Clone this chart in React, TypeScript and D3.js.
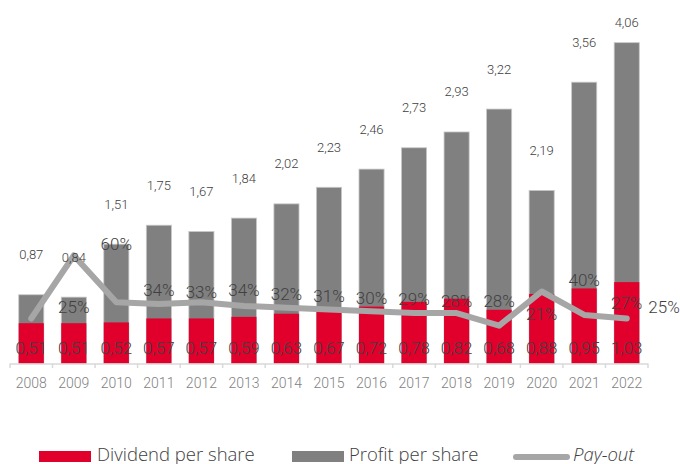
import React from 'react';
import * as d3 from 'd3';

const years = ['2008','2009','2010','2011','2012','2013','2014','2015','2016','2017','2018','2019','2020','2021','2022'];
const dividend = [0.51,0.51,0.52,0.57,0.57,0.59,0.63,0.67,0.72,0.78,0.82,0.68,0.88,0.95,1.03];
const profit = [0.87,0.84,1.51,1.75,1.67,1.84,2.02,2.23,2.46,2.73,2.93,3.22,2.19,3.56,4.06];
const payout = [25,60,34,33,34,32,31,30,29,28,28,21,40,27,25];
const legendLabels = ['Dividend per share', 'Profit per share', 'Pay-out'];

const W = 680, H = 464;
const RED = '#E0002B', GRAY = '#808080', LINE = '#A6A6A6', TXT = '#404040';
const FONT = 'Roboto, "Open Sans", sans-serif';
const LFONT = '"Open Sans", Roboto, sans-serif';
const fmt = (v: number) => v.toFixed(2).replace('.', ',');

export default function App() {
  const x = d3.scaleBand<string>().domain(years).range([10, 648]).paddingInner(0.41).paddingOuter(0.205);
  const y = d3.scaleLinear().domain([0, 4.6]).range([363.5, 0]);
  const yp = d3.scaleLinear().domain([0, 200]).range([363.5, 3.5]);
  const step = x.step();
  const cx = (i: number) => (x(years[i]) as number) + x.bandwidth() / 2;
  const line = d3.line<number>().x((_, i) => cx(i)).y(d => yp(d));
  const baseY = y(0);
  const r0 = x.range()[0];

  return (
    <svg width={W} height={H} style={{ position: 'absolute', left: 0, top: 0, background: '#fff' }} fontFamily={FONT}>
      {profit.map((v, i) => (
        <rect key={'p' + i} x={x(years[i])} y={y(v)} width={x.bandwidth()} height={baseY - y(v)} fill={GRAY} stroke="#C8C8C8" strokeWidth={0.8} />
      ))}
      {dividend.map((v, i) => (
        <rect key={'d' + i} x={x(years[i])} y={y(v)} width={x.bandwidth()} height={baseY - y(v)} fill={RED} />
      ))}
      <line x1={r0} x2={x.range()[1]} y1={baseY + 0.5} y2={baseY + 0.5} stroke="#D9D9D9" strokeWidth={1.5} />
      {d3.range(years.length + 1).map(i => (
        <line key={'t' + i} x1={r0 + i * step} x2={r0 + i * step} y1={baseY} y2={baseY + 4.5} stroke="#D9D9D9" strokeWidth={1.5} />
      ))}
      {years.map((yr, i) => (
        <text key={'x' + i} x={cx(i)} y={383} textAnchor="middle" dominantBaseline="central" fontSize={14} fill="#7F7F7F" fontWeight={300}>{yr}</text>
      ))}
      <path d={line(payout) || ''} fill="none" stroke={LINE} strokeWidth={6} strokeLinejoin="round" strokeLinecap="round" />
      {profit.map((v, i) => (
        <text key={'pl' + i} x={cx(i)} y={Math.max(y(v) - 40, 22)} textAnchor="middle" dominantBaseline="central" fontSize={13} fill={TXT} fontWeight={300}>{fmt(v)}</text>
      ))}
      {dividend.map((v, i) => (
        <text key={'dl' + i} x={cx(i)} y={baseY - 16} textAnchor="middle" dominantBaseline="central" fontSize={17} fill={TXT} fontWeight={300}>{fmt(v)}</text>
      ))}
      {payout.map((v, i) => (
        <text key={'ol' + i} x={Math.min(cx(i) + step, W - 16)} y={yp(v) - 12} textAnchor="middle" dominantBaseline="central" fontSize={17} fill={TXT} fontWeight={300}>{v + '%'}</text>
      ))}
      <g fontFamily={LFONT}>
        <rect x={39} y={451} width={52} height={11} fill={RED} />
        <text x={97} y={460.5} fontSize={18.5} fill={TXT} fontWeight={300}>{legendLabels[0]}</text>
        <rect x={292} y={451} width={52} height={11} fill={GRAY} />
        <text x={349} y={460.5} fontSize={18.5} fill={TXT} fontWeight={300}>{legendLabels[1]}</text>
        <line x1={516} x2={567} y1={457} y2={457} stroke={LINE} strokeWidth={6} strokeLinecap="round" />
        <text x={573} y={460.5} fontSize={18.5} fill={TXT} fontWeight={300} fontStyle="italic">{legendLabels[2]}</text>
      </g>
    </svg>
  );
}
